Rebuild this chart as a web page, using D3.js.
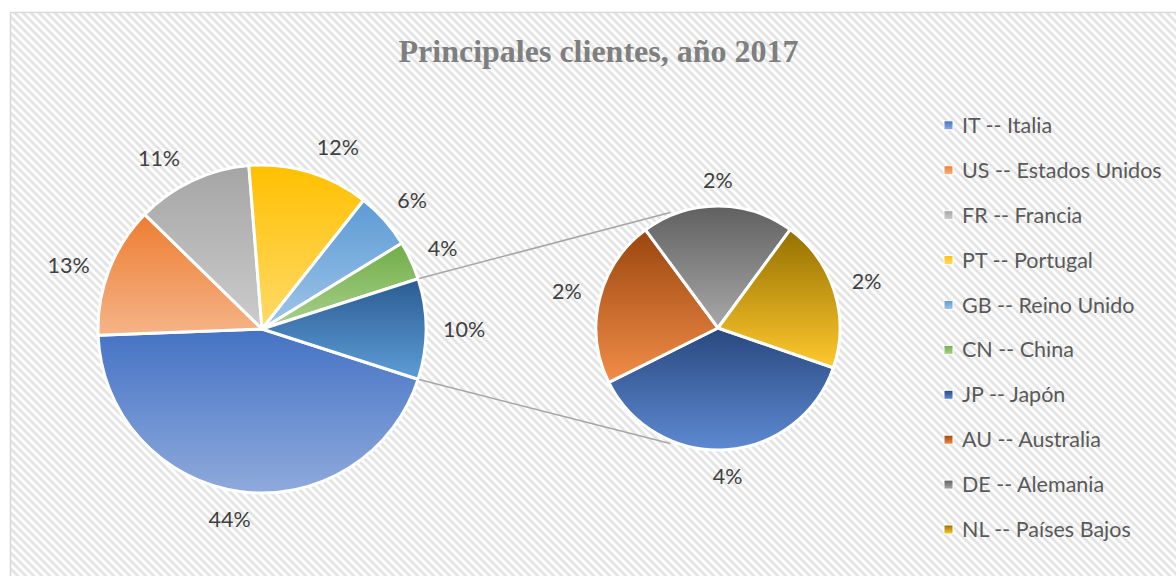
<!DOCTYPE html>
<html><head><meta charset="utf-8">
<script src="https://cdn.jsdelivr.net/npm/d3@7"></script>
<style>html,body{margin:0;padding:0;background:#fff;overflow:hidden}</style>
</head><body>
<svg id="chart" width="1176" height="576"></svg>
<script>
// ---------------- DATA ----------------
const chartTitle = "Principales clientes, año 2017";
const mainCodes  = ["IT", "US", "FR", "PT", "GB", "CN"];
const mainNames  = ["Italia", "Estados Unidos", "Francia", "Portugal", "Reino Unido", "China"];
const mainValues = [44.4, 12.9, 11.4, 11.9, 5.6, 3.8];
const subCodes   = ["JP", "AU", "DE", "NL"];
const subNames   = ["Japón", "Australia", "Alemania", "Países Bajos"];
const subValues  = [3.7, 2.2, 2.0, 2.0];

// ---------------- STYLE / LAYOUT ----------------
const mainColors = [["#4472C4","#8FAADC"],["#ED7D31","#F5B488"],["#A5A5A5","#CCCCCC"],
                    ["#FFC000","#FFDA6A"],["#5B9BD5","#A0C5E8"],["#70AD47","#A9D18E"]];
const otherColors = ["#2A5C92","#5E9DD6"];
const subColors  = [["#29487F","#5E8AD2"],["#9A460E","#F28D48"],["#606060","#A8A8A8"],["#957000","#FFC92E"]];
const mainLabelNudge = [1.8, -2.7, -6, 5.8, 1, 0.5, 0]; // degrees
const W = 1176, H = 576;
const c1 = {x: 262, y: 329}, R1 = 164;
const c2 = {x: 718, y: 328}, R2 = 122;
const subStartDeg = 109;
const labelFont = "Lato, 'Open Sans', sans-serif";
const fs = 21.5;

const svg = d3.select("#chart");
const defs = svg.append("defs");
const rad = d => d * Math.PI / 180;

// background pattern
const P = 5.657;
const pat = defs.append("pattern").attr("id","bgp").attr("patternUnits","userSpaceOnUse")
  .attr("width",P).attr("height",P).attr("patternTransform","rotate(-45)");
pat.append("rect").attr("width",P).attr("height",P).attr("fill","#ffffff");
pat.append("rect").attr("width",2.7).attr("height",P).attr("fill","#e3e3e3");

svg.append("rect").attr("x",0).attr("y",0).attr("width",W).attr("height",H).attr("fill","#fff");
svg.append("rect").attr("x",10.5).attr("y",12.5).attr("width",W+20).attr("height",H+20)
  .attr("fill","url(#bgp)").attr("stroke","#d9d9d9").attr("stroke-width",1.5);

let gid = 0;
function grad(cols){
  const id = "g" + (gid++);
  const g = defs.append("linearGradient").attr("id",id).attr("x1",0).attr("y1",0).attr("x2",0).attr("y2",1);
  g.append("stop").attr("offset","0%").attr("stop-color",cols[0]);
  g.append("stop").attr("offset","100%").attr("stop-color",cols[1]);
  return "url(#" + id + ")";
}

// title
svg.append("text").attr("x",598.5).attr("y",62).attr("text-anchor","middle")
  .attr("font-family","'Liberation Serif','Times New Roman',serif").attr("font-weight","bold")
  .attr("font-size",32).attr("fill","#7f7f7f").text(chartTitle);

const otherValue = d3.sum(subValues);
const total = d3.sum(mainValues) + otherValue;
const pct = v => Math.round(v / total * 100) + "%";

// main pie
const mainData = mainValues.map((v,i)=>({value:v, colors:mainColors[i]}))
  .concat([{value: otherValue, colors: otherColors, other: true}]);
const otherAng = otherValue / total * 2 * Math.PI;
const mainStart = Math.PI/2 + otherAng/2;
const pieMain = d3.pie().sort(null).value(d=>d.value).startAngle(mainStart).endAngle(mainStart + 2*Math.PI);
const arcMain = d3.arc().innerRadius(0).outerRadius(R1);
const mainArcs = pieMain(mainData);

const gMain = svg.append("g").attr("transform",`translate(${c1.x},${c1.y})`);
gMain.selectAll("path").data(mainArcs).join("path")
  .attr("d",arcMain).attr("fill",d=>grad(d.data.colors))
  .attr("stroke","#fff").attr("stroke-width",3).attr("stroke-linejoin","round");

// secondary pie
const subData = subValues.map((v,i)=>({value:v, colors:subColors[i]}));
const s0 = rad(subStartDeg);
const pieSub = d3.pie().sort(null).value(d=>d.value).startAngle(s0).endAngle(s0 + 2*Math.PI);
const arcSub = d3.arc().innerRadius(0).outerRadius(R2);
const subArcs = pieSub(subData);
const gSub = svg.append("g").attr("transform",`translate(${c2.x},${c2.y})`);
gSub.selectAll("path").data(subArcs).join("path")
  .attr("d",arcSub).attr("fill",d=>grad(d.data.colors))
  .attr("stroke","#fff").attr("stroke-width",3).attr("stroke-linejoin","round");

// leader lines
const otherArc = mainArcs[mainArcs.length-1];
const pt = (c, r, a) => [c.x + r*Math.sin(a), c.y - r*Math.cos(a)];
const lines = [
  [pt(c1, R1+1, otherArc.startAngle), pt(c2, R2+3, rad(337.5))],
  [pt(c1, R1+1, otherArc.endAngle),   pt(c2, R2+3, rad(202.5))]
];
svg.selectAll("line.leader").data(lines).join("line").attr("class","leader")
  .attr("x1",d=>d[0][0]).attr("y1",d=>d[0][1]).attr("x2",d=>d[1][0]).attr("y2",d=>d[1][1])
  .attr("stroke","#a6a6a6").attr("stroke-width",1.5);

// data labels
function placeLabels(arcs, c, R, nudges){
  arcs.forEach((d,i)=>{
    const a = (d.startAngle + d.endAngle)/2 + rad(nudges ? nudges[i] : 0);
    const t = svg.append("text").attr("font-family",labelFont).attr("font-size",fs)
      .attr("fill","#404040").attr("text-anchor","middle").text(pct(d.data.value));
    const w = t.node().getComputedTextLength();
    const h = 17;
    const r = R + 17 + Math.abs(Math.sin(a))*w/2 + Math.abs(Math.cos(a))*h/2;
    const p = pt(c, r, a);
    t.attr("x",p[0]).attr("y",p[1] + 0.36*fs);
  });
}
placeLabels(mainArcs, c1, R1, mainLabelNudge);
placeLabels(subArcs, c2, R2, null);

// legend
const legendItems = mainCodes.map((c,i)=>({label: c + " -- " + mainNames[i], colors: mainColors[i]}))
  .concat(subCodes.map((c,i)=>({label: c + " -- " + subNames[i], colors: subColors[i]})));
const ly = d3.scalePoint().domain(d3.range(legendItems.length)).range([125.3, 529.5]);
const lg = svg.append("g");
legendItems.forEach((it,i)=>{
  const y = ly(i);
  lg.append("rect").attr("x",944).attr("y",y-4.5).attr("width",9).attr("height",9)
    .attr("fill",grad(it.colors)).attr("stroke","#fff").attr("stroke-width",1);
  lg.append("text").attr("x",962).attr("y",y+7.6).attr("font-family",labelFont).attr("font-size",fs)
    .attr("fill","#595959").text(it.label);
});
</script>
</body></html>
